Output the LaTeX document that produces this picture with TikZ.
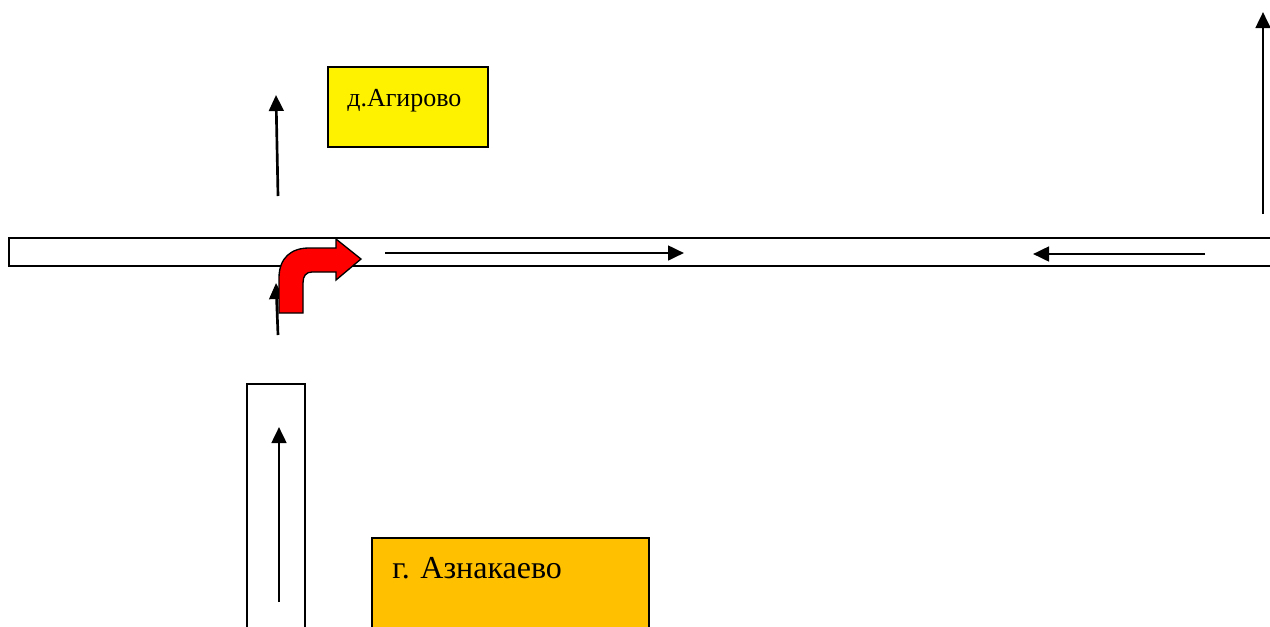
\documentclass[tikz,border=0pt]{standalone}
\usepackage{fontspec}
\setmainfont{Liberation Serif}
\usetikzlibrary{arrows.meta}
\definecolor{townorange}{HTML}{FFC000}
\tikzset{
	road/.style={draw, line width=1.4pt, fill=white},
	lane/.style={-{Triangle[length=12pt,width=11pt]}, line width=2pt},
	placebox/.style={draw, line width=1.4pt, anchor=north west, inner sep=0pt},
	placename/.style={anchor=base west, inner sep=0pt},
}
\begin{document}
\begin{tikzpicture}[x=0.75pt, y=-0.75pt]
		\useasboundingbox (0,0) rectangle (1270,626);
		\clip (0,0) rectangle (1270,626);
		% roads
		\draw[road] (9,238) rectangle (1290,266);
		\draw[road] (247,384) rectangle (305,650);
		% lanes
		\foreach \xa/\ya/\xb/\yb in {278/196/276/95, 278/335/276/283, 279/602/279/427, 385/253/684/253, 1205/254/1033/254, 1263/214/1263/12}{
			\draw[lane] (\xa,\ya) -- (\xb,\yb);
		}
		% turn to the right
		\draw[fill=red, line width=1pt, line join=miter] (279,313) -- (279,278) .. controls (279,258) and (291,248) .. (309,248) -- (336,248) -- (336,239) -- (361,259) -- (336,280) -- (336,272) -- (312,272) .. controls (306,272) and (303,276) .. (303,283) -- (303,313) -- cycle;
		% places
		\node[placebox, fill=yellow, minimum width=120pt, minimum height=60pt] (agirovobox) at (327,66) {};
		\node[placename, font=\fontsize{19.5}{20}\selectfont] (agirovo) at (347,106) {д.Агирово};
		\node[placebox, fill=townorange, minimum width=207.75pt, minimum height=80pt] (aznakaevobox) at (371,537) {};
		\node[placename, font=\fontsize{24}{25}\selectfont] (aznakaevo) at (392,578) {г. Азнакаево};
\end{tikzpicture}
\end{document}
